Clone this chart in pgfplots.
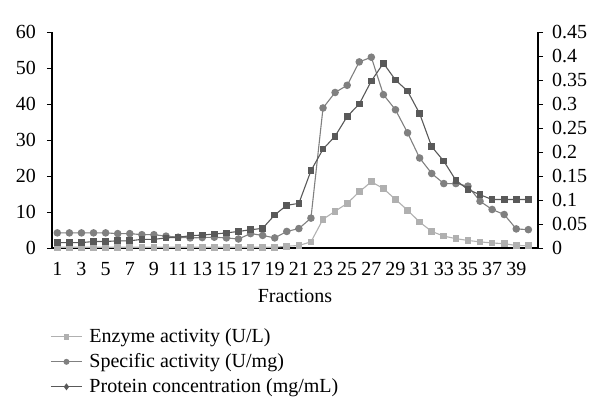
\documentclass[border=0pt]{standalone}
\usepackage{fontspec}
\setmainfont{Liberation Serif}
\usepackage{pgfplots}
\pgfplotsset{compat=1.18}
\definecolor{enz}{HTML}{B0B0B0}
\definecolor{spec}{HTML}{808080}
\definecolor{prot}{HTML}{595959}

\pgfplotstableread{
f enzyme specific
1 0.2 4.2
2 0.2 4.2
3 0.2 4.2
4 0.2 4.2
5 0.2 4.2
6 0.2 4.0
7 0.2 4.0
8 0.2 3.7
9 0.2 3.7
10 0.2 3.3
11 0.2 3.0
12 0.2 2.8
13 0.2 2.9
14 0.2 3.0
15 0.2 2.8
16 0.2 2.5
17 0.2 4.0
18 0.2 3.5
19 0.2 2.8
20 0.5 4.6
21 0.7 5.4
22 1.7 8.3
23 8.0 38.9
24 10.2 43.2
25 12.4 45.2
26 15.6 51.7
27 18.4 53.0
28 16.5 42.6
29 13.5 38.4
30 10.5 32.0
31 7.2 25.0
32 4.6 20.7
33 3.3 17.9
34 2.6 17.9
35 2.1 17.2
36 1.7 13.0
37 1.4 10.7
38 1.2 9.3
39 0.7 5.3
40 0.65 5.1
}\leftdata

\pgfplotstableread{
f protein
1 0.0113
2 0.0113
3 0.0113
4 0.0135
5 0.0135
6 0.015
7 0.015
8 0.018
9 0.018
10 0.021
11 0.0225
12 0.0255
13 0.027
14 0.029
15 0.0315
16 0.0345
17 0.038
18 0.041
19 0.069
20 0.089
21 0.093
22 0.161
23 0.206
24 0.233
25 0.274
26 0.300
27 0.348
28 0.385
29 0.350
30 0.327
31 0.280
32 0.211
33 0.181
34 0.141
35 0.122
36 0.111
37 0.101
38 0.101
39 0.101
40 0.101
}\protdata

\pgfplotsset{
  base/.style={
    scale only axis, width=243pt, height=108pt,
    xmin=0.56, xmax=40.8,
    font=\fontsize{10}{12}\selectfont,
    /pgf/number format/assume math mode=true,
    tick align=outside, major tick length=2.5pt,
    tick style={black, line width=0.5pt},
    axis line style={black, line width=0.6pt},
    legend image code/.code={\draw[mark repeat=2,mark phase=2] plot coordinates {(0pt,0pt) (7.75pt,0pt) (15.5pt,0pt)};},
  },
  lin/.style={line width=0.55pt, mark size=1.6pt},
}

\begin{document}
\begin{tikzpicture}
\useasboundingbox (-26pt,-85pt) rectangle (274pt,124pt);
\begin{axis}[base,
    axis y line*=left, axis x line*=bottom,
    ymin=0, ymax=60, ytick={0,10,...,60},
    xtick={1,3,...,39}, xtick style={draw=none},
    xticklabel style={yshift=-1pt},
    yticklabel style={xshift=-2pt},
    xlabel={Fractions},
    xlabel style={at={(axis description cs:0.5,0)}, anchor=center, yshift=-24pt},
  ]
  \addplot[lin, color=enz, mark=square*, mark size=1.4pt] table[x=f, y=enzyme] {\leftdata};
  \addplot[lin, color=spec, mark=*] table[x=f, y=specific] {\leftdata};
\end{axis}
\begin{axis}[base,
    axis y line*=right, axis x line=none,
    ymin=0, ymax=0.45, ytick={0,0.05,...,0.45},
    yticklabel style={/pgf/number format/fixed, /pgf/number format/precision=2, xshift=1pt},
    legend style={draw=none, fill=none, at={(axis description cs:0,0)}, anchor=north west,
      yshift=-36pt, xshift=-4pt, row sep=0pt, font=\fontsize{10}{12}\selectfont,
      nodes={inner xsep=3.5pt}},
    legend cell align=left,
  ]
  \addlegendimage{line width=0.55pt, color=enz, mark=square*, mark size=1.1pt}
  \addlegendentry{Enzyme activity (U/L)}
  \addlegendimage{line width=0.55pt, color=spec, mark=*, mark size=1.2pt}
  \addlegendentry{Specific activity (U/mg)}
  \addplot[lin, color=prot, mark=square*, mark size=1.4pt, forget plot] table[x=f, y=protein] {\protdata};
  \addlegendimage{line width=0.55pt, color=prot, mark=diamond*, mark size=1.3pt}
  \addlegendentry{Protein concentration (mg/mL)}
\end{axis}
\end{tikzpicture}
\end{document}
